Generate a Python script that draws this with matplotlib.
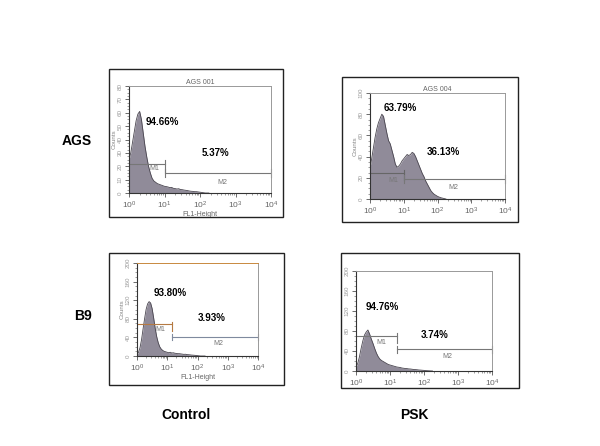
import numpy as np
import matplotlib
matplotlib.use("Agg")
import matplotlib.pyplot as plt
from matplotlib.patches import Rectangle
from matplotlib.ticker import LogLocator, MultipleLocator, NullFormatter

plt.rcParams['font.family'] = ['Liberation Sans', 'DejaVu Sans']

# ============================
# Data
# ============================
# log10 of FL1 channel, bins of 0.05 decade
channel_log = np.round(np.arange(0, 2.30, 0.05), 2)

ags_control = [25, 30, 38, 46, 54, 59, 61, 55, 45, 35, 27, 20, 15, 11, 9, 8,
               7, 6.5, 6, 5.5, 5, 4.8, 4.5, 4, 4.2, 3.5, 3.3, 3, 3.2, 2.6, 2.5,
               2.2, 2, 1.8, 1.5, 1.3, 1.2, 1, 1, 0.8, 0.6, 0.4, 0.2, 0, 0, 0]
ags_psk = [30, 38, 48, 58, 66, 72, 76, 80, 78, 70, 62, 55, 52, 46, 40, 33,
           30, 31, 33, 36, 38, 40, 42, 41, 42, 44, 43, 40, 36, 32, 28, 24,
           21, 17, 14, 11, 8, 6, 4.5, 3.5, 2.5, 1.8, 1.2, 0.8, 0.4, 0]
b9_control = [3, 8, 18, 35, 58, 80, 100, 112, 117, 114, 102, 82, 60, 42, 29,
              20, 15, 12, 10, 9, 8, 7, 8, 6.5, 7, 6, 5.5, 5, 5, 4.5, 4, 3.5,
              3.8, 3, 2.8, 2.5, 2, 1.8, 1.5, 1.2, 0.8, 0.4, 0, 0, 0, 0]
b9_psk = [8, 15, 28, 45, 60, 72, 78, 82, 74, 64, 55, 45, 36, 29, 24, 21, 19,
          17, 15, 13, 12, 11, 10, 9, 8, 7.5, 7, 6, 5.5, 5, 4.8, 4.2, 4, 3.5,
          3, 2.8, 2.5, 2, 1.8, 1.5, 1.2, 0.8, 0.6, 0.4, 0.2, 0]

titles = ["AGS 001", "AGS 004", "", ""]
m1_pct = ["94.66%", "63.79%", "93.80%", "94.76%"]
m2_pct = ["5.37%", "36.13%", "3.93%", "3.74%"]
row_labels = ["AGS", "B9"]
col_labels = ["Control", "PSK"]

W, H = 600, 446


def fig_rect(x0, y0, x1, y1):
    # pixel box -> figure fraction
    return [x0 / W, 1 - y1 / H, (x1 - x0) / W, (y1 - y0) / H]


fig = plt.figure(figsize=(6, 4.46), dpi=100)

# panel settings: outer box, axes box, ymax, ytick step, gate split (log),
# M1 level, M2 level, gate tick half-height, text positions
panels = [
    dict(counts=ags_control, outer=(109, 69, 283, 217), ax=(129, 86, 271, 193),
         ymax=80, ystep=10, split=1.0, m1=22, m2=15, th=6,
         p1=(0.93, 53), p2=(2.45, 30), l1=(0.7, 18), l2=(2.62, 8),
         ylabel="Counts", xlabel="FL1-Height", gate1="#777777", gate2="#777777",
         topc="#999999"),
    dict(counts=ags_psk, outer=(342, 77, 518, 222), ax=(370, 93, 505, 199),
         ymax=100, ystep=20, split=1.0, m1=25, m2=19, th=7,
         p1=(0.89, 86), p2=(2.16, 44), l1=(0.68, 17), l2=(2.46, 11),
         ylabel="Counts", xlabel="", gate1="#666666", gate2="#777777",
         topc="#999999"),
    dict(counts=b9_control, outer=(109, 253, 284, 385), ax=(137, 263, 258, 356),
         ymax=200, ystep=40, split=1.17, m1=68, m2=41, th=14,
         p1=(1.09, 135), p2=(2.48, 82), l1=(0.76, 56), l2=(2.68, 26),
         ylabel="Counts", xlabel="FL1-Height", gate1="#b57a42", gate2="#7f8a9e",
         topc="#c8893f"),
    dict(counts=b9_psk, outer=(341, 253, 519, 388), ax=(356, 271, 492, 371),
         ymax=200, ystep=40, split=1.2, m1=70, m2=44, th=14,
         p1=(0.76, 128), p2=(2.32, 72), l1=(0.74, 56), l2=(2.7, 28),
         ylabel="", xlabel="", gate1="#777777", gate2="#777777",
         topc="#999999"),
]

for i, p in enumerate(panels):
    # outer frame
    fig.patches.append(Rectangle((p["outer"][0] / W, 1 - p["outer"][3] / H),
                                 (p["outer"][2] - p["outer"][0]) / W,
                                 (p["outer"][3] - p["outer"][1]) / H,
                                 transform=fig.transFigure, fill=False,
                                 edgecolor="#222222", linewidth=1.0))

    ax = fig.add_axes(fig_rect(*p["ax"]))
    x = 10 ** channel_log
    ax.fill_between(x, p["counts"], 0, color="#908b99", linewidth=0)
    ax.plot(x, p["counts"], color="#4a4650", linewidth=0.6)

    ax.set_xscale("log")
    ax.set_xlim(1, 1e4)
    ax.set_ylim(0, p["ymax"])
    ax.xaxis.set_major_locator(LogLocator(base=10, numticks=5))
    ax.xaxis.set_minor_locator(LogLocator(base=10, subs=np.arange(2, 10), numticks=10))
    ax.xaxis.set_minor_formatter(NullFormatter())
    ax.yaxis.set_major_locator(MultipleLocator(p["ystep"]))
    ax.yaxis.set_minor_locator(MultipleLocator(p["ystep"] / 4))
    ax.tick_params(axis="both", which="major", labelsize=6, colors="#555555",
                   length=3, width=0.6, pad=1.5)
    ax.tick_params(axis="both", which="minor", length=1.5, width=0.4, colors="#555555")
    for lab in ax.get_yticklabels():
        lab.set_rotation(90)
        lab.set_va("center")
    ax.tick_params(axis="y", labelsize=4.5, labelcolor="#999999")
    ax.tick_params(axis="x", labelcolor="#666666")

    for side in ["left", "bottom"]:
        ax.spines[side].set_color("#333333")
        ax.spines[side].set_linewidth(0.8)
    ax.spines["top"].set_color(p["topc"])
    ax.spines["right"].set_color("#999999")
    ax.spines["top"].set_linewidth(0.7)
    ax.spines["right"].set_linewidth(0.7)

    if titles[i]:
        ax.set_title(titles[i], fontsize=5, color="#666666", pad=1.5)
    if p["ylabel"]:
        ax.set_ylabel(p["ylabel"], fontsize=4.5, color="#888888", labelpad=0.5)
    if p["xlabel"]:
        ax.set_xlabel(p["xlabel"], fontsize=5, color="#666666", labelpad=0.5)

    # gates M1 / M2
    s = 10 ** p["split"]
    ax.plot([1, s], [p["m1"], p["m1"]], color=p["gate1"], linewidth=0.8)
    ax.plot([s, s], [p["m1"] - p["th"], p["m1"] + p["th"] * 0.4],
            color=p["gate1"], linewidth=0.8)
    ax.plot([s, 1e4], [p["m2"], p["m2"]], color=p["gate2"], linewidth=0.8)
    ax.plot([s, s], [p["m2"] - p["th"] * 0.5, p["m2"] + p["th"] * 0.5],
            color=p["gate2"], linewidth=0.8)
    ax.plot([1e4, 1e4], [p["m2"] - p["th"] * 0.5, p["m2"] + p["th"] * 0.5],
            color=p["gate2"], linewidth=0.8, clip_on=False)
    ax.text(10 ** p["l1"][0], p["l1"][1], "M1", fontsize=5, color="#777777",
            ha="center", va="center")
    ax.text(10 ** p["l2"][0], p["l2"][1], "M2", fontsize=5, color="#777777",
            ha="center", va="center")

    ax.text(10 ** p["p1"][0], p["p1"][1], m1_pct[i], fontsize=7, fontweight="bold",
            ha="center", va="center")
    ax.text(10 ** p["p2"][0], p["p2"][1], m2_pct[i], fontsize=7, fontweight="bold",
            ha="center", va="center")

# row and column labels
fig.text(92 / W, 1 - 141 / H, row_labels[0], fontsize=10, fontweight="bold",
         ha="right", va="center")
fig.text(92 / W, 1 - 316 / H, row_labels[1], fontsize=10, fontweight="bold",
         ha="right", va="center")
fig.text(186 / W, 1 - 415 / H, col_labels[0], fontsize=10, fontweight="bold",
         ha="center", va="center")
fig.text(414 / W, 1 - 415 / H, col_labels[1], fontsize=10, fontweight="bold",
         ha="center", va="center")

fig.savefig("out.png", dpi=100, facecolor="white")
